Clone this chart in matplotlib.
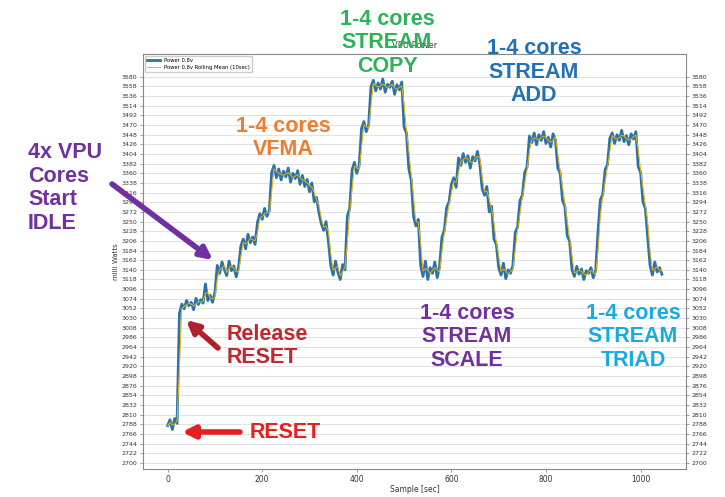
import matplotlib
matplotlib.use('Agg')
import matplotlib.pyplot as plt
import numpy as np
import pandas as pd

# power samples, one every 5 sec
power = [
    # reset
    2785, 2798, 2776, 2801, 2790,
    # reset released
    3040, 3062, 3051, 3070, 3058, 3066, 3049, 3075, 3061, 3072, 3064, 3108, 3070, 3082, 3066, 3088,
    # idle
    3150, 3132, 3158, 3141, 3127, 3160, 3138, 3149, 3124, 3146,
    # vfma 1-4 cores
    3195, 3210, 3188, 3221, 3202, 3215, 3198,
    3248, 3268, 3255, 3280, 3262, 3274,
    3362, 3378, 3350, 3370, 3345, 3365, 3352, 3372, 3340, 3360, 3348, 3366, 3335, 3355, 3330, 3346, 3318, 3338,
    3295, 3305, 3270, 3245, 3230, 3250, 3205,
    3150, 3128, 3160, 3135, 3118, 3152, 3140,
    # stream copy
    3262, 3280, 3368, 3385, 3360, 3378, 3462, 3478, 3455, 3470,
    3558, 3572, 3548, 3566, 3552, 3575, 3545, 3563, 3556, 3570, 3540, 3562, 3550, 3568,
    3465, 3452, 3370, 3345, 3262, 3240, 3255,
    3150, 3125, 3160, 3118, 3145, 3132, 3158, 3122, 3148,
    # stream scale
    3215, 3230, 3282, 3295, 3335, 3350, 3328,
    3395, 3378, 3405, 3385, 3400, 3372, 3398, 3388, 3410, 3382,
    3325, 3310, 3330, 3272, 3285, 3210, 3198,
    3145, 3128, 3155, 3120, 3140, 3132, 3150,
    # stream add
    3225, 3238, 3298, 3310, 3362, 3375,
    3445, 3430, 3452, 3425, 3448, 3435, 3455, 3428, 3442, 3420, 3450, 3436,
    3372, 3360, 3298, 3285, 3218, 3205,
    3140, 3125, 3148, 3130, 3142, 3118, 3138, 3132, 3145, 3122, 3138,
    # stream triad
    3228, 3300, 3312, 3368, 3380,
    3440, 3452, 3428, 3448, 3435, 3458, 3432, 3446, 3425, 3450, 3438, 3455,
    3375, 3362, 3295, 3280, 3215,
    3150, 3128, 3158, 3135, 3145, 3130,
]
sample_step = 5
yticks = list(range(2700, 3581, 22))
xticks = [0, 200, 400, 600, 800, 1000]

W, H = 725, 497
fig = plt.figure(figsize=(W / 100, H / 100), dpi=100)
ax = fig.add_axes([143 / W, 1 - 469 / H, 543 / W, 415 / H])

t = np.arange(len(power)) * sample_step
s = pd.Series(power, index=t)
ax.plot(t, s.values, color='#2b73a8', lw=2.0, label='Power 0.8v')
ax.plot(t, s.rolling(2, min_periods=1).mean().values, color='#f2b400', lw=0.7,
        label='Power 0.8v Rolling Mean (10sec)')

ax.set_xlim(-52, 1096)
ax.set_ylim(2686, 3632)
ax.set_yticks(yticks)
ax.set_yticklabels([str(v) for v in yticks], fontsize=4.5, color='#333333')
ax.set_xticks(xticks)
ax.set_xticklabels([str(v) for v in xticks], fontsize=5.5, color='#333333')
ax.tick_params(length=2, width=0.5, colors='#777777', pad=2)
ax.tick_params(labelcolor='#333333')
ax.grid(axis='y', color='#dddddd', lw=0.6)
ax.set_xlabel('Sample [sec]', fontsize=5.5, color='#333333', labelpad=1)
ax.set_ylabel('milli Watts', fontsize=5, color='#333333', labelpad=2)
ax.set_title('VPU Power', fontsize=6, color='#444444', pad=4, zorder=0)
for sp in ax.spines.values():
    sp.set_color('#888888')
    sp.set_linewidth(0.8)
ax.legend(loc='upper left', fontsize=3.8, frameon=True, framealpha=1,
          edgecolor='#cccccc', borderaxespad=0.3, handlelength=2.5)

ax2 = ax.twinx()
ax2.set_ylim(ax.get_ylim())
ax2.set_yticks(yticks)
ax2.set_yticklabels([str(v) for v in yticks], fontsize=4.5, color='#333333')
ax2.tick_params(length=2, width=0.5, colors='#777777', labelcolor='#333333', pad=2)
for sp in ax2.spines.values():
    sp.set_visible(False)


def fx(px):
    return px / W


def fy(py):
    return 1 - py / H


font = dict(family=['Liberation Sans', 'DejaVu Sans'], weight='bold', fontsize=15.5)


def label(x, y, txt, color, ha='center'):
    fig.text(fx(x), fy(y), txt, color=color, ha=ha, va='center',
             linespacing=1.15, **font)


def arrow(x0, y0, x1, y1, color):
    ax.annotate('', xy=(fx(x1), fy(y1)), xytext=(fx(x0), fy(y0)),
                xycoords='figure fraction', textcoords='figure fraction',
                annotation_clip=False,
                arrowprops=dict(arrowstyle='-|>', color=color, lw=4,
                                mutation_scale=18, shrinkA=0, shrinkB=0))


label(28, 188, '4x VPU\nCores\nStart\nIDLE', '#7030a0', ha='left')
label(283, 138, '1-4 cores\nVFMA', '#ed7d31')
label(387, 43, '1-4 cores\nSTREAM\nCOPY', '#2db357')
label(534, 72, '1-4 cores\nSTREAM\nADD', '#2270b8')
label(467, 337, '1-4 cores\nSTREAM\nSCALE', '#7030a0')
label(633, 337, '1-4 cores\nSTREAM\nTRIAD', '#18aae2')
label(227, 346, 'Release\nRESET', '#c0282d', ha='left')
label(250, 433, 'RESET', '#e52020', ha='left')

arrow(112, 184, 213, 260, '#7030a0')
arrow(218, 348, 186, 320, '#b0222a')
arrow(240, 432, 182, 432, '#e52020')

fig.savefig('out.png', dpi=100, facecolor='white')
